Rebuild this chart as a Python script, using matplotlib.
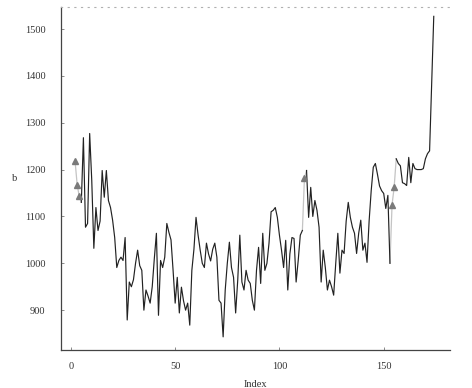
import numpy as np
import matplotlib
matplotlib.use('Agg')
import matplotlib.pyplot as plt

# index of the first value and the series
start = 2
b = [1218, 1168, 1143, 1130, 1268, 1077, 1085, 1277, 1177, 1032,
     1119, 1070, 1090, 1198, 1141, 1198, 1134, 1119, 1092, 1055,
     991, 1006, 1013, 1006, 1055, 879, 960, 950, 965, 1000,
     1028, 995, 985, 900, 943, 930, 915, 950, 1010, 1064,
     889, 1006, 991, 1013, 1085, 1066, 1050, 985, 915, 970,
     894, 949, 920, 900, 915, 868, 985, 1030, 1098, 1060,
     1028, 1000, 991, 1043, 1020, 1005, 1030, 1043, 1013, 921,
     915, 843, 943, 1000, 1045, 991, 970, 894, 964, 1060,
     960, 943, 985, 964, 957, 921, 900, 985, 1034, 957,
     1064, 985, 1000, 1043, 1110, 1113, 1119, 1098, 1060, 1028,
     991, 1049, 943, 1020, 1055, 1053, 960, 1006, 1060, 1070,
     1183, 1198, 1098, 1162, 1100, 1134, 1113, 1077, 960, 1028,
     991, 943, 964, 950, 932, 1000, 1064, 979, 1028, 1021,
     1090, 1130, 1098, 1077, 1064, 1021, 1064, 1092, 1028, 1043,
     1002, 1090, 1155, 1205, 1213, 1190, 1165, 1155, 1149, 1117,
     1145, 1000, 1125, 1162, 1223, 1213, 1208, 1172, 1170, 1166,
     1226, 1172, 1213, 1202, 1200, 1200, 1200, 1202, 1223, 1234,
     1240, 1380, 1527]
# points drawn with triangles (and grey joins)
marked = [2, 3, 4, 112, 154, 155]

idx = np.arange(start, start + len(b))
b = np.array(b, dtype=float)
mask = np.isin(idx, marked)

plt.rcParams['font.family'] = ['Liberation Serif', 'DejaVu Serif']
plt.rcParams['font.size'] = 7.5

fig = plt.figure(figsize=(4.72, 3.88), dpi=100)
ax = fig.add_axes([0.129, 0.098, 0.824, 0.884])

# grey pieces touching the marked points
for i in range(len(idx) - 1):
    if mask[i] or mask[i + 1]:
        ax.plot(idx[i:i + 2], b[i:i + 2], color='#c4c4c4', lw=0.9, zorder=1)

ax.plot(idx, np.where(mask, np.nan, b), color='#222222', lw=0.85, zorder=2)
ax.plot(idx[mask], b[mask], linestyle='none', marker='^', ms=4.5,
        color='#7a7a7a', zorder=3)

ax.set_xlim(-4.8, 181.7)
ax.set_ylim(815, 1547)
ax.set_xticks([0, 50, 100, 150])
ax.set_yticks([900, 1000, 1100, 1200, 1300, 1400, 1500])

ax.spines['right'].set_visible(False)
ax.spines['top'].set_color('#b0b0b0')
ax.spines['top'].set_linestyle((0, (1, 5)))
ax.spines['top'].set_linewidth(0.8)
for s in ['left', 'bottom']:
    ax.spines[s].set_color('#444444')
    ax.spines[s].set_linewidth(0.9)

ax.tick_params(direction='in', length=2.5, width=0.6, color='#777777',
               labelcolor='#333333', pad=9)
ax.tick_params(axis='y', pad=11)

ax.set_xlabel('Index', color='#333333', labelpad=6)
ax.set_ylabel('b', color='#333333', rotation=0, ha='center', va='center')
ax.yaxis.set_label_coords(-0.12, 0.5)

plt.savefig('out.png', dpi=100)
